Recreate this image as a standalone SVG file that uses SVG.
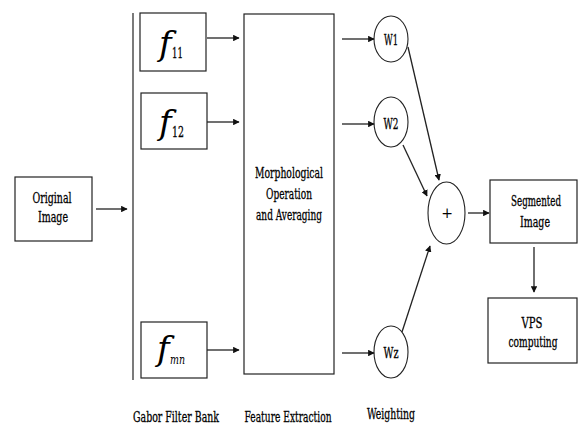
<svg xmlns="http://www.w3.org/2000/svg" width="578" height="425" viewBox="0 0 578 425">
<style>
.box{fill:#fff;stroke:#222;stroke-width:1.2}
.ell{fill:#fff;stroke:#222;stroke-width:1.1}
.t{font-family:'DejaVu Serif',serif;font-size:14px;text-anchor:middle;fill:#000;stroke:#000;stroke-width:0.3}
.f{font-family:'DejaVu Serif',serif;font-style:italic;fill:#000}
.c{stroke:#222;stroke-width:1.3;fill:none;marker-end:url(#ah)}
</style>
<defs>
<marker id="ah" viewBox="0 0 10 10" refX="9" refY="5" markerWidth="5" markerHeight="5" orient="auto" markerUnits="strokeWidth">
<path d="M0,0 L10,5 L0,10 z" fill="#111"/>
</marker>
</defs>
<rect width="578" height="425" fill="#fff"/>
<line x1="133" y1="13" x2="133" y2="380" stroke="#222" stroke-width="1.2"/>
<g id="original">
<rect class="box" x="15" y="177" width="77" height="64"/>
<text class="t" transform="translate(52,203) scale(0.68,1)" textLength="57.4" lengthAdjust="spacingAndGlyphs">Original</text>
<text class="t" transform="translate(53,222) scale(0.68,1)" textLength="44.1" lengthAdjust="spacingAndGlyphs">Image</text>
</g>
<g id="f11">
<rect class="box" x="140" y="13" width="66" height="58"/>
<text class="f" x="159" y="55" font-size="34">f</text>
<text class="t" transform="translate(177.5,58) scale(0.68,1)" font-size="13" textLength="16" lengthAdjust="spacingAndGlyphs">11</text>
</g>
<g id="f12">
<rect class="box" x="141" y="93" width="66" height="56"/>
<text class="f" x="159" y="134" font-size="34">f</text>
<text class="t" transform="translate(178,137) scale(0.68,1)" font-size="15" textLength="17.6" lengthAdjust="spacingAndGlyphs">12</text>
</g>
<g id="fmn">
<rect class="box" x="141" y="322" width="66" height="56"/>
<text class="f" x="157" y="360" font-size="34">f</text>
<text class="f" transform="translate(170,364) scale(0.75,1)" font-size="13" textLength="20" lengthAdjust="spacingAndGlyphs">mn</text>
</g>
<g id="feature">
<rect class="box" x="244" y="14" width="90" height="360"/>
<text class="t" transform="translate(289,178) scale(0.68,1)" textLength="100" lengthAdjust="spacingAndGlyphs">Morphological</text>
<text class="t" transform="translate(289,199) scale(0.68,1)" textLength="67.6" lengthAdjust="spacingAndGlyphs">Operation</text>
<text class="t" transform="translate(289,220) scale(0.68,1)" textLength="97" lengthAdjust="spacingAndGlyphs">and Averaging</text>
</g>
<g id="w1">
<ellipse class="ell" cx="391" cy="39" rx="17" ry="23"/>
<text class="t" transform="translate(391,45) scale(0.68,1)" textLength="20.6" lengthAdjust="spacingAndGlyphs">W1</text>
</g>
<g id="w2">
<ellipse class="ell" cx="391" cy="122" rx="17" ry="25"/>
<text class="t" transform="translate(391,129) scale(0.68,1)" textLength="22" lengthAdjust="spacingAndGlyphs">W2</text>
</g>
<g id="wz">
<ellipse class="ell" cx="391" cy="352" rx="17" ry="26"/>
<text class="t" transform="translate(391,358) scale(0.68,1)" textLength="22" lengthAdjust="spacingAndGlyphs">Wz</text>
</g>
<g id="sum">
<ellipse class="ell" cx="446.5" cy="213" rx="18.5" ry="31"/>
<text class="t" x="447" y="218" font-size="13" style="stroke-width:0">+</text>
</g>
<g id="segmented">
<rect class="box" x="490" y="180" width="87" height="63"/>
<text class="t" transform="translate(536,206) scale(0.68,1)" textLength="73.5" lengthAdjust="spacingAndGlyphs">Segmented</text>
<text class="t" transform="translate(535,227) scale(0.68,1)" textLength="44.1" lengthAdjust="spacingAndGlyphs">Image</text>
</g>
<g id="vps">
<rect class="box" x="488" y="298" width="89" height="65"/>
<text class="t" transform="translate(532,328) scale(0.68,1)" textLength="30.9" lengthAdjust="spacingAndGlyphs">VPS</text>
<text class="t" transform="translate(533,347) scale(0.68,1)" textLength="72" lengthAdjust="spacingAndGlyphs">computing</text>
</g>
<g id="labels">
<text class="t" transform="translate(176,422) scale(0.68,1)" textLength="126.5" lengthAdjust="spacingAndGlyphs">Gabor Filter Bank</text>
<text class="t" transform="translate(288,422) scale(0.68,1)" textLength="128" lengthAdjust="spacingAndGlyphs">Feature Extraction</text>
<text class="t" transform="translate(391,419) scale(0.68,1)" textLength="70.6" lengthAdjust="spacingAndGlyphs">Weighting</text>
</g>
<g id="connectors">
<line class="c" x1="96" y1="209" x2="127" y2="209"/>
<line class="c" x1="207" y1="38" x2="239" y2="38"/>
<line class="c" x1="207" y1="122" x2="239" y2="122"/>
<line class="c" x1="207" y1="350" x2="239" y2="350"/>
<line class="c" x1="342" y1="39" x2="374" y2="39"/>
<line class="c" x1="342" y1="124" x2="374" y2="124"/>
<line class="c" x1="342" y1="353" x2="374" y2="353"/>
<line class="c" x1="408" y1="47" x2="439" y2="180"/>
<line class="c" x1="403" y1="145" x2="427" y2="196"/>
<line class="c" x1="402" y1="332" x2="430" y2="246"/>
<line class="c" x1="468" y1="213" x2="489" y2="213"/>
<line class="c" x1="534" y1="247" x2="534" y2="292"/>
</g>
</svg>
